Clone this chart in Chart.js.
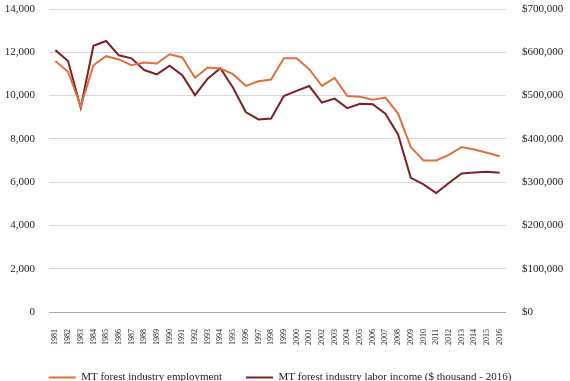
<!DOCTYPE html>
<html>
<head>
<meta charset="utf-8">
<script src="https://cdn.jsdelivr.net/npm/chart.js@4"></script>
<style>
  html, body { margin: 0; padding: 0; background: #fff; overflow: hidden; }
  #wrap { width: 570px; height: 393px; position: relative; }
</style>
</head>
<body>
<div id="wrap"><canvas id="lineChart"></canvas></div>
<script>
// years on the x axis
const years = [];
for (let y = 1981; y <= 2016; y++) years.push(String(y));

// MT forest industry employment (jobs)
const employment = [
  11600, 11100, 9500, 11400, 11820, 11670, 11400, 11530, 11480, 11910,
  11760, 10820, 11300, 11250, 10990, 10450, 10660, 10740, 11720, 11720,
  11220, 10450, 10820, 9980, 9950, 9810, 9910, 9170, 7620, 7000,
  7000, 7260, 7620, 7510, 7360, 7200
];

// labor income ($ thousand - 2016)
const laborIncome = [
  605000, 580000, 472000, 615000, 626000, 593000, 586000, 559000, 549000, 569000,
  547000, 501000, 539000, 563000, 518000, 462000, 445000, 447000, 499000, 511000,
  522000, 484000, 493000, 471000, 481000, 480000, 458000, 410000, 310000, 295000,
  275000, 298000, 320000, 322000, 324000, 321500
];

const serif = "'Liberation Serif', 'DejaVu Serif', serif";

// nudge the bottom legend so it sits centred under the plot area
const legendShift = {
    id: 'legendShift',
    afterLayout(chart) {
        const lg = chart.legend;
        if (!lg) return;
        lg.left -= 5;
        lg.right -= 5;
    }
};

window.onload = function () {
    const ctx = document.getElementById('lineChart').getContext('2d');

    new Chart(ctx, {
        type: 'line',
        data: {
            labels: years,
            datasets: [{
                label: 'MT forest industry employment',
                data: employment,
                borderColor: '#E36F3A',
                backgroundColor: '#E36F3A',
                borderWidth: 2,
                pointRadius: 0,
                tension: 0,
                yAxisID: 'y'
            }, {
                label: 'MT forest industry labor income ($ thousand - 2016)',
                data: laborIncome,
                borderColor: '#7E1F26',
                backgroundColor: '#7E1F26',
                borderWidth: 2,
                pointRadius: 0,
                tension: 0,
                yAxisID: 'y1'
            }]
        },
        plugins: [legendShift],
        options: {
            responsive: true,
            maintainAspectRatio: false,
            animation: false,
            layout: { padding: 0 },
            plugins: {
                tooltip: { enabled: false },
                legend: {
                    position: 'bottom',
                    labels: {
                        usePointStyle: true,
                        pointStyle: 'line',
                        pointStyleWidth: 27,
                        color: '#222',
                        padding: 24,
                        font: { family: serif, size: 11 }
                    }
                }
            },
            scales: {
                x: {
                    offset: true,
                    grid: { display: false, drawTicks: false },
                    border: { display: false },
                    ticks: {
                        autoSkip: false,
                        maxRotation: 90,
                        minRotation: 90,
                        padding: 17,
                        color: '#222',
                        font: { family: serif, size: 8 }
                    },
                    afterFit: function (s) { s.height = 36; }
                },
                y: {
                    position: 'left',
                    min: 0,
                    max: 14000,
                    grid: {
                        drawTicks: false,
                        lineWidth: 1,
                        color: function (c) { return c.tick && c.tick.value === 0 ? '#a6a6a6' : '#d9d9d9'; }
                    },
                    border: { display: false },
                    ticks: {
                        stepSize: 2000,
                        padding: 14,
                        color: '#222',
                        font: { family: serif, size: 11 },
                        callback: function (v) { return v.toLocaleString('en-US'); }
                    },
                    afterFit: function (s) { s.width = 49; s.paddingTop = 9; s.paddingBottom = 7; }
                },
                y1: {
                    position: 'right',
                    min: 0,
                    max: 700000,
                    grid: { display: false, drawTicks: false },
                    border: { display: false },
                    ticks: {
                        stepSize: 100000,
                        padding: 16,
                        color: '#222',
                        font: { family: serif, size: 11 },
                        callback: function (v) { return '$' + v.toLocaleString('en-US'); }
                    },
                    afterFit: function (s) { s.width = 64; s.paddingTop = 9; s.paddingBottom = 7; }
                }
            }
        }
    });
};
</script>
</body>
</html>
